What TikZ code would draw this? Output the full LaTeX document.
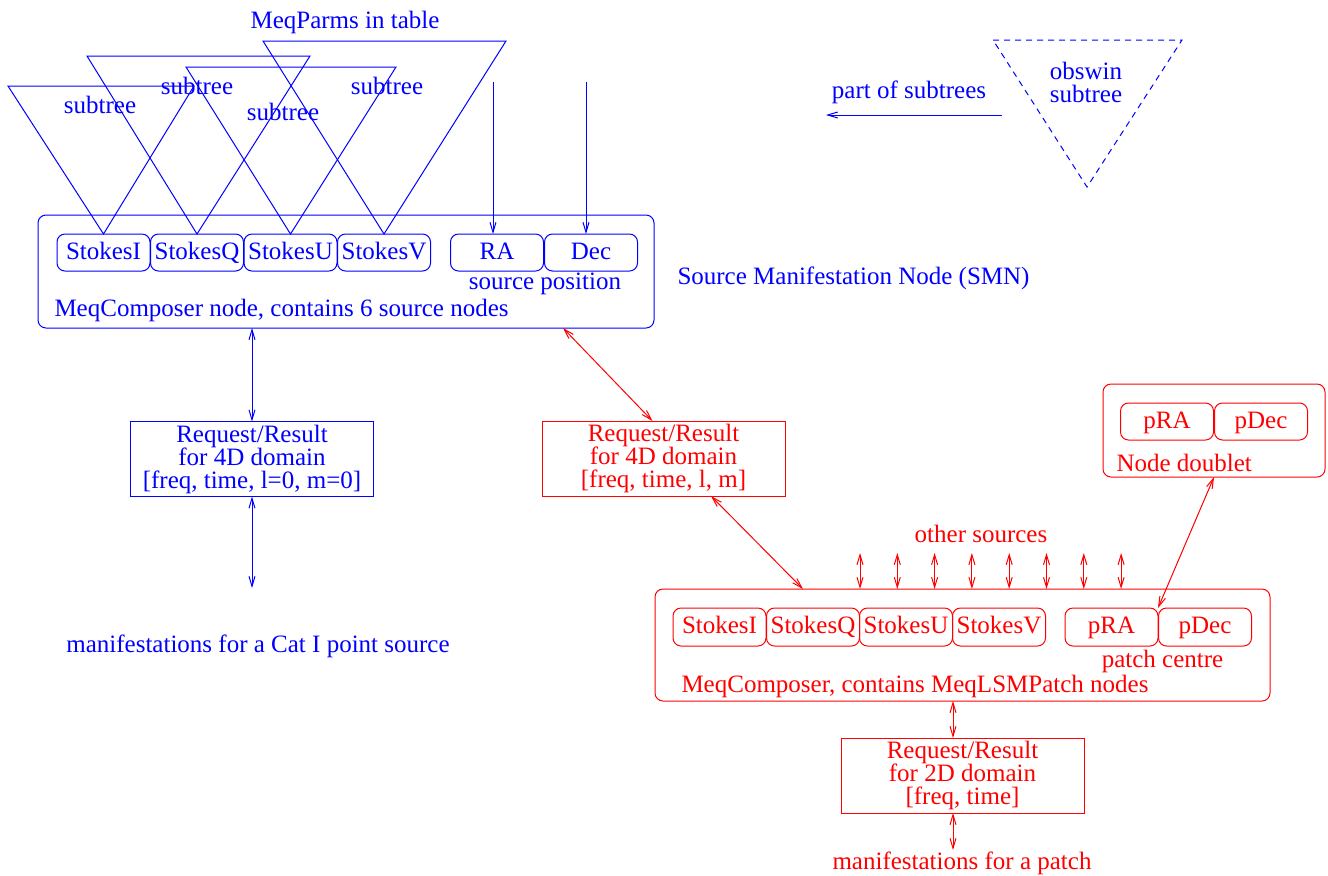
\documentclass[tikz,border=0pt]{standalone}
\usepackage{fontspec}
\setmainfont{Liberation Serif}
\usetikzlibrary{arrows.meta}

\tikzset{
  part/.style={draw, rounded corners=4pt, minimum width=46.5pt, minimum height=18.5pt, inner sep=0pt, outer sep=0pt,
    text height=8.5pt, text depth=2pt},
  holder/.style={draw, rounded corners=4pt, inner sep=0pt, outer sep=0pt},
  reqbox/.style={draw, align=center, minimum width=121.5pt, minimum height=37.5pt, inner sep=0pt, outer sep=0pt},
  txt/.style={inner sep=0pt},
}

\begin{document}
\begin{tikzpicture}[x=0.5pt, y=-0.5pt, line width=0.5pt, >={Straight Barb[length=5pt,width=3pt]},
    font=\fontsize{12.5}{11.5}\selectfont]

    \useasboundingbox (0,0) rectangle (1328,875);

    % point source (blue)
    \node[holder, blue, minimum width=308pt, minimum height=56.5pt] (smn) at (346,271.5) {};
    \node[part, blue] (sI) at (103.5,252.5) {StokesI};
    \node[part, blue] (sQ) at (197,252.5) {StokesQ};
    \node[part, blue] (sU) at (290.5,252.5) {StokesU};
    \node[part, blue] (sV) at (384,252.5) {StokesV};
    \node[part, blue] (ra) at (497,252.5) {RA};
    \node[part, blue] (dec) at (591,252.5) {Dec};
    \node[txt, blue] (srcpos) at (545,284) {source position};
    \node[txt, blue, anchor=west] (smnlbl) at (54,310) {MeqComposer node, contains 6 source nodes};
    \node[txt, blue, anchor=west] (smnname) at (677,278) {Source Manifestation Node (SMN)};

    \node[txt, blue] (parms) at (345,22) {MeqParms in table};
    \draw[blue] (8,86) -- (194,86) -- (sI.north) -- cycle;
    \draw[blue] (87,56) -- (310,56) -- (sQ.north) -- cycle;
    \draw[blue] (186,67) -- (396,67) -- (sU.north) -- cycle;
    \draw[blue] (263,41) -- (506,41) -- (sV.north) -- cycle;
    \node[txt, blue] (st1) at (100,105) {subtree};
    \node[txt, blue] (st2) at (197,86) {subtree};
    \node[txt, blue] (st3) at (283,112) {subtree};
    \node[txt, blue] (st4) at (387,86) {subtree};

    \coordinate (ratop) at (493,82);
    \coordinate (dectop) at (586,82);
    \draw[->, blue] (ratop) -- (ratop |- ra.north);
    \draw[->, blue] (dectop) -- (dectop |- dec.north);

    \node[reqbox, color=blue] (breq) at (252,459)
        {Request/Result\\for 4D domain\\{[freq, time, l=0, m=0]}};
    \coordinate (catend) at (252,588);
    \draw[<->, blue] (smn.south -| breq.north) -- (breq.north);
    \draw[<->, blue] (breq.south) -- (catend);
    \node[txt, blue] (cat) at (258,646) {manifestations for a Cat I point source};

    % obswin (blue)
    \draw[blue, dash pattern=on 3pt off 2.5pt] (993,40) -- (1182,40) -- (1087,187) -- cycle;
    \node[txt, blue, align=center] (obswin) at (1086,82.5) {obswin\\subtree};
    \node[txt, blue] (partof) at (909,92) {part of subtrees};
    \coordinate (ps0) at (1002,115);
    \coordinate (ps1) at (826,115);
    \draw[->, blue] (ps0) -- (ps1);

    % patch (red)
    \node[reqbox, red] (rreq1) at (663.5,458.5)
        {Request/Result\\for 4D domain\\{[freq, time, l, m]}};
    \coordinate (smnr) at (563,328);
    \draw[<->, red] (smnr) -- ([xshift=-5.5pt]rreq1.north);

    \node[holder, red, minimum width=307.5pt, minimum height=56pt] (rbig) at (962.5,645) {};
    \node[part, red, minimum height=19pt] (rI) at (719.5,627) {StokesI};
    \node[part, red, minimum height=19pt] (rQ) at (813,627) {StokesQ};
    \node[part, red, minimum height=19pt] (rU) at (906,627) {StokesU};
    \node[part, red, minimum height=19pt] (rV) at (999,627) {StokesV};
    \node[part, red, minimum height=19pt] (rpra) at (1111.5,627) {pRA};
    \node[part, red, minimum height=19pt] (rpdec) at (1205,627) {pDec};
    \node[txt, red] (pcentre) at (1162.5,661) {patch centre};
    \node[txt, red, anchor=west] (rbiglbl) at (681,686) {MeqComposer, contains MeqLSMPatch nodes};
    \draw[<->, red] ([xshift=23.75pt]rreq1.south) -- ([xshift=74pt]rbig.north west);

    \node[txt, red] (others) at (981,534) {other sources};
    \foreach \x [count=\i] in {860,897.3,934.6,971.9,1009.2,1046.5,1083.8,1121.1} {
        \coordinate (os\i) at (\x,553);
        \draw[<->, red] (os\i) -- (os\i |- rbig.north);
    }

    \node[holder, red, minimum width=111pt, minimum height=46.5pt] (dbl) at (1214,430.5) {};
    \node[part, red] (dpra) at (1167,421.5) {pRA};
    \node[part, red] (dpdec) at (1261,421.5) {pDec};
    \node[txt, red, anchor=west] (dbllbl) at (1116,463) {Node doublet};
    \draw[<->, red] (dbl.south) -- (rpra.north east);

    \node[reqbox, red] (rreq2) at (962.5,775.5)
        {Request/Result\\for 2D domain\\{[freq, time]}};
    \coordinate (rq2top) at ([xshift=-4.75pt]rreq2.north);
    \coordinate (patchend) at (953,850);
    \draw[<->, red] (rbig.south -| rq2top) -- (rq2top);
    \draw[<->, red] (rq2top |- rreq2.south) -- (patchend);
    \node[txt, red] (patch) at (962,863) {manifestations for a patch};

\end{tikzpicture}
\end{document}
